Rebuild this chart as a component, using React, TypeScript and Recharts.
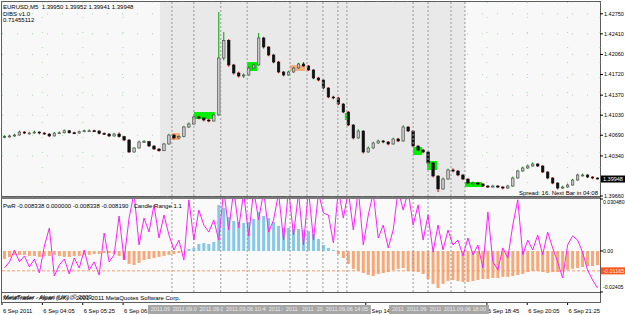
import React from "react";
import {
  ComposedChart,
  Bar,
  Line,
  XAxis,
  YAxis,
  CartesianGrid,
  ReferenceArea,
  ReferenceLine,
  Cell,
} from "recharts";

// EURUSD M5 candles (one entry per bar), open = previous close
const firstOpen = 1.4066;
const closes = [
  1.40666, 1.40678, 1.40694, 1.40745, 1.40728, 1.40728, 1.40745, 1.40728, 1.40711, 1.40678,
  1.40728, 1.40733, 1.40767, 1.40733, 1.40728, 1.4075, 1.40767, 1.40767, 1.40762, 1.40723,
  1.40711, 1.40678, 1.40711, 1.40666, 1.4061, 1.40406, 1.40474, 1.40576, 1.40581, 1.40508,
  1.40457, 1.40428, 1.40542, 1.40694, 1.40644, 1.40666, 1.4083, 1.40881, 1.41, 1.40983,
  1.40949, 1.40932, 1.41034, 1.42, 1.423, 1.41882, 1.41746, 1.41695, 1.41712, 1.41831,
  1.41882, 1.4234, 1.42187, 1.42051, 1.41932, 1.41763, 1.41712, 1.41763, 1.41831, 1.41899,
  1.41865, 1.41797, 1.41661, 1.41627, 1.41492, 1.41339, 1.41322, 1.4122, 1.41084, 1.40864,
  1.40644, 1.40762, 1.40406, 1.40474, 1.40559, 1.40593, 1.40576, 1.40542, 1.40627, 1.40593,
  1.4083, 1.40762, 1.40508, 1.4044, 1.40406, 1.4022, 1.39999, 1.39779, 1.39948, 1.40101,
  1.40084, 1.40016, 1.39948, 1.3988, 1.3988, 1.39863, 1.39829, 1.39812, 1.39829, 1.39812,
  1.39795, 1.39829, 1.39965, 1.40084, 1.40135, 1.40169, 1.40203, 1.40169, 1.40067, 1.39965,
  1.3988, 1.39795, 1.39812, 1.39846, 1.39931, 1.40016, 1.40016, 1.39982, 1.39965, 1.39948,
];
const highs = [
  1.4069, 1.407, 1.40715, 1.4077, 1.4076, 1.4075, 1.4077, 1.40755, 1.4074, 1.40725,
  1.40745, 1.40755, 1.4079, 1.4078, 1.4075, 1.4077, 1.40785, 1.4079, 1.40785, 1.40775,
  1.4074, 1.40725, 1.4073, 1.4074, 1.4068, 1.40625, 1.4049, 1.406, 1.4061, 1.40595,
  1.4052, 1.4047, 1.4056, 1.40715, 1.4071, 1.4069, 1.4085, 1.4091, 1.4103, 1.4102,
  1.41, 1.4097, 1.4106, 1.4278, 1.4244, 1.4232, 1.419, 1.4177, 1.4174, 1.4186,
  1.4191, 1.42424, 1.4236, 1.422, 1.4207, 1.4195, 1.4178, 1.41785, 1.4185, 1.4192,
  1.4193, 1.4188, 1.4181, 1.4168, 1.4164, 1.41505, 1.4136, 1.4134, 1.41235, 1.411,
  1.4088, 1.4079, 1.40775, 1.405, 1.4058, 1.40615, 1.4061, 1.4059, 1.4065, 1.40645,
  1.4086, 1.40845, 1.40775, 1.4052, 1.4046, 1.4042, 1.40235, 1.4001, 1.39975, 1.40125,
  1.4013, 1.401, 1.4003, 1.3996, 1.39905, 1.399, 1.3988, 1.39845, 1.3985, 1.39845,
  1.3983, 1.3985, 1.3999, 1.40105, 1.4016, 1.40195, 1.4023, 1.40215, 1.4018, 1.4008,
  1.3998, 1.39895, 1.39835, 1.3987, 1.3995, 1.4004, 1.4004, 1.4003, 1.39995, 1.39975,
];
const lows = [
  1.4064, 1.4065, 1.40665, 1.40685, 1.4071, 1.40705, 1.40715, 1.40705, 1.40695, 1.4066,
  1.4067, 1.40715, 1.4072, 1.4072, 1.4071, 1.40715, 1.4074, 1.4075, 1.40745, 1.40705,
  1.40695, 1.4066, 1.40665, 1.4065, 1.4059, 1.4039, 1.40395, 1.40465, 1.4056, 1.4049,
  1.4044, 1.4041, 1.4042, 1.4053, 1.4062, 1.4063, 1.40655, 1.40815, 1.4087, 1.4096,
  1.40925, 1.4091, 1.4092, 1.4102, 1.4196, 1.4185, 1.4172, 1.4167, 1.4166, 1.417,
  1.41815, 1.4187, 1.4216, 1.4203, 1.4191, 1.4174, 1.4169, 1.417, 1.4175, 1.4182,
  1.4185, 1.4178, 1.4164, 1.41605, 1.4147, 1.4132, 1.413, 1.412, 1.41065, 1.40845,
  1.4062, 1.4063, 1.4038, 1.40395, 1.4046, 1.40545, 1.40555, 1.4052, 1.4053, 1.40575,
  1.4058, 1.40745, 1.4049, 1.4042, 1.40385, 1.402, 1.39975, 1.39728, 1.39765, 1.39935,
  1.4006, 1.39995, 1.3993, 1.3986, 1.3986, 1.39845, 1.3981, 1.39795, 1.398, 1.39795,
  1.3977, 1.3978, 1.39815, 1.39955, 1.4007, 1.4012, 1.40155, 1.4015, 1.4005, 1.39945,
  1.3986, 1.3977, 1.3978, 1.398, 1.39835, 1.3992, 1.39995, 1.39965, 1.39945, 1.39941,
];

// PwR histogram and Candle Range line (lower window)
const pwr = [
  -0.0047, -0.0035, -0.0023, -0.0023, -0.0023, -0.0029, -0.0029, -0.0035, -0.0029, -0.0029,
  -0.0023, -0.0029, -0.0035, -0.0035, -0.0029, -0.0029, -0.0023, -0.0023, -0.0018, -0.0018,
  -0.0012, -0.0012, -0.0018, -0.0029, -0.0053, -0.0076, -0.0082, -0.007, -0.0053, -0.0047,
  -0.0041, -0.0035, -0.0029, -0.0023, -0.0018, -0.0012, -0.0003, 0.0012, 0.0018, 0.0041,
  0.0047, 0.0041, 0.0053, 0.027, 0.0252, 0.0199, 0.0176, 0.017, 0.0164, 0.017,
  0.0188, 0.0229, 0.0205, 0.0193, 0.017, 0.0147, 0.0135, 0.0135, 0.0129, 0.0129,
  0.0123, 0.0117, 0.01, 0.007, 0.0035, 0.0018, 0.0006, -0.0018, -0.0041, -0.0076,
  -0.0105, -0.0117, -0.0129, -0.0141, -0.0147, -0.0135, -0.0129, -0.0123, -0.0111, -0.0105,
  -0.01, -0.0117, -0.0117, -0.0123, -0.0135, -0.0164, -0.0193, -0.0217, -0.0193, -0.0176,
  -0.017, -0.0176, -0.0182, -0.0182, -0.0176, -0.017, -0.0164, -0.0164, -0.0158, -0.0158,
  -0.0152, -0.0152, -0.0147, -0.0141, -0.0135, -0.0123, -0.0117, -0.0117, -0.0123, -0.0129,
  -0.0123, -0.0123, -0.0117, -0.0111, -0.0105, -0.01, -0.0094, -0.0088, -0.0088, -0.0083,
];
const candleRange = [
  -0.01, -0.0064, 0.0006, -0.0064, -0.0029, -0.0094, -0.0047, -0.0129, 0.0029, 0.0135,
  -0.0147, -0.0082, -0.0047, -0.0135, -0.0041, -0.01, 0.0006, -0.0111, -0.0064, -0.0141,
  0.0105, -0.0064, -0.0023, 0.0205, -0.0053, 0.0193, 0.034, 0.0035, 0.0193, 0.0111,
  0.027, 0.0076, 0.0211, 0.0094, 0.0006, 0.0064, -0.0053, 0.03, 0.0064, 0.024,
  0.0152, 0.0111, 0.0182, 0.0064, 0.036, 0.0123, 0.036, 0.0135, 0.034, 0.0088,
  0.036, 0.0182, 0.035, 0.0111, 0.0182, 0.034, 0.0064, 0.036, 0.0094, 0.034,
  0.0035, 0.036, 0.0064, 0.034, 0.0223, 0.0211, 0.0047, 0.036, 0.0193, 0.035,
  0.0123, 0.036, 0.0035, 0.0211, 0.034, 0.0076, 0.0152, 0.0018, 0.0123, 0.036,
  0.024, 0.035, 0.0152, 0.027, 0.0064, 0.0211, -0.0006, 0.0152, 0.0006, 0.0123,
  0.0035, 0.0064, -0.0029, 0.0076, -0.0023, 0.0035, -0.01, 0.0229, -0.0064, -0.0111,
  0.0018, -0.0041, 0.0152, 0.03, -0.0023, 0.0064, 0.0006, 0.0094, -0.0023, 0.0111,
  0.0018, -0.0064, -0.0158, 0.0035, 0.0088, 0.0064, -0.0006, -0.0111, -0.017, -0.0217,
];

const priceTicks = [1.4275, 1.4241, 1.4206, 1.4172, 1.4137, 1.4103, 1.4069, 1.4034, 1.3966];
const lastPrice = 1.39948;
const pwrTicks = [0.03048, 0, -0.02405];
const pwrTickLabels = ["0.030480", "0.00", "-0.02405"];
const pwrLevel = -0.01165;

// time labels that are not hidden under the line boxes
const timeTicks = [-0.5, 7.6, 15.7, 23.8, 72.5, 96.8, 104.9, 113];
const timeLabels = [
  "6 Sep 2011", "6 Sep 04:05", "6 Sep 05:25", "6 Sep 06:45",
  "6 Sep 14:45", "6 Sep 18:45", "6 Sep 20:05", "6 Sep 21:25",
];

// vertical line objects
const vlineBars = [33.6, 38, 43.4, 48.7, 57.3, 60.7, 63.9, 66.9, 68.7, 82, 85, 89.6, 92.4];
const vlineTimes = [
  "2011.09.06 08:20", "2011.09.06 09:05", "2011.09.06 10:00", "2011.09.06 10:45",
  "2011.09.06 12:15", "2011.09.06 12:50", "2011.09.06 13:20", "2011.09.06 13:50",
  "2011.09.06 14:05", "2011.09.06 16:20", "2011.09.06 16:50", "2011.09.06 17:35",
  "2011.09.06 18:00",
];

// session shading and DIBS boxes
const sessionFrom = 31.2;
const sessionTo = 92.4;
const zoneStart = [33.6, 38, 48.7, 57.3, 68.3, 82, 84.8, 92.4];
const zoneEnd = [35.2, 42.2, 50.7, 60.3, 69.3, 83.8, 86.8, 95.8];
const zoneHigh = [1.40728, 1.41084, 1.41932, 1.41882, 1.41068, 1.40491, 1.40253, 1.39897];
const zoneLow = [1.4061, 1.40966, 1.4178, 1.4178, 1.40949, 1.40355, 1.40101, 1.39812];
const zoneKind = ["sell", "buy", "buy", "sell", "buy", "buy", "buy", "buy"];

const bars = closes.map((c, i) => ({
  i,
  open: i === 0 ? firstOpen : closes[i - 1],
  close: c,
  high: highs[i],
  low: lows[i],
  pwr: pwr[i],
  range: candleRange[i],
}));

const FONT = '"Liberation Sans", Arial, sans-serif';
const XDOMAIN: [number, number] = [-0.5, 119.5];

function Candle(props: any) {
  const { x, y, width, height, payload } = props;
  if (x == null || y == null || !payload) return null;
  const top = Math.min(y, y + height);
  const h = Math.abs(height);
  const { open, close, high, low } = payload;
  const span = high - low || 1e-9;
  const px = (p: number) => top + ((high - p) / span) * h;
  const cx = x + width / 2;
  const up = close >= open;
  const b1 = px(Math.max(open, close));
  const b2 = px(Math.min(open, close));
  return (
    <g>
      <line x1={cx} x2={cx} y1={top} y2={top + h} stroke={up ? "#00a000" : "#e00000"} strokeWidth={1} />
      <rect
        x={cx - 1.25}
        y={b1}
        width={2.5}
        height={Math.max(1, b2 - b1)}
        fill={up ? "#c8c8c8" : "#101010"}
        stroke={up ? "#404040" : "#101010"}
        strokeWidth={0.6}
      />
    </g>
  );
}

const PriceTick = (p: any) => (
  <text x={p.x} y={p.y} dy="0.35em" fontSize={5.5} fill="#000" fontFamily={FONT}>
    {Number(p.payload.value).toFixed(5)}
  </text>
);

const PwrTick = (p: any) => {
  const shift = p.index === 0 ? 3.5 : p.index === 2 ? -5 : 0;
  return (
    <text x={p.x} y={p.y + shift} dy="0.35em" fontSize={5.2} fill="#000" fontFamily={FONT}>
      {pwrTickLabels[p.index]}
    </text>
  );
};

const TimeTick = (p: any) => (
  <text x={p.x + 1} y={p.y + 3.5} dy="0.35em" fontSize={5.8} fill="#000" fontFamily={FONT}>
    {timeLabels[p.index]}
  </text>
);

const TimeBox = (p: any) => (
  <g>
    <rect x={p.x - 24} y={p.y} width={48} height={9} fill="#a6a6a6" />
    <text x={p.x} y={p.y + 4.5} dy="0.35em" textAnchor="middle" fontSize={5.5} fill="#ececec" fontFamily={FONT}>
      {vlineTimes[p.index]}
    </text>
  </g>
);

const ScaleTick = (p: any) => (
  <g fontSize={5.4} fill="#000" fontFamily={FONT}>
    <text x={p.x} y={p.y} dy="0.35em">0.00664</text>
    <text x={p.x + 1} y={p.y + 1.5} dy="0.35em">0.00000</text>
  </g>
);

const PriceTag = (p: any) => {
  const { viewBox } = p;
  const x = viewBox.x + viewBox.width;
  return (
    <g>
      <rect x={x + 1} y={viewBox.y - 3.5} width={26} height={7} fill="#000" />
      <text x={x + 3} y={viewBox.y} dy="0.35em" fontSize={5.5} fill="#fff" fontFamily={FONT}>
        {lastPrice.toFixed(5)}
      </text>
    </g>
  );
};

const LevelTag = (p: any) => {
  const { viewBox } = p;
  const x = viewBox.x + viewBox.width;
  return (
    <g>
      <rect x={x + 1} y={viewBox.y - 3.5} width={26} height={7} fill="#ff5418" />
      <text x={x + 3} y={viewBox.y} dy="0.35em" fontSize={5.5} fill="#fff2e8" fontFamily={FONT}>
        {pwrLevel.toFixed(5)}
      </text>
    </g>
  );
};

const vlines = (key: string) =>
  vlineBars.map((b, k) => (
    <ReferenceLine key={key + k} x={b} stroke="#9a9a9a" strokeDasharray="2 2" />
  ));

const txt: React.CSSProperties = {
  position: "absolute",
  fontFamily: FONT,
  fontSize: 6,
  lineHeight: "6px",
  color: "#000",
  whiteSpace: "nowrap",
};

export default function App() {
  return (
    <div style={{ position: "absolute", left: 0, top: 0, width: 625, height: 315, background: "#fff", overflow: "hidden" }}>
      {/* pane frames */}
      <div style={{ position: "absolute", left: 1, top: 1, width: 600, height: 196, boxSizing: "border-box", border: "1px solid #5c5c5c", background: "#f8f8f8" }} />
      <div style={{ position: "absolute", left: 1, top: 197, width: 600, height: 96, boxSizing: "border-box", border: "1px solid #5c5c5c", borderTop: "2px solid #7a7a7a", background: "#fafafa" }} />
      <div style={{ position: "absolute", left: 1, top: 292, width: 600, height: 11, boxSizing: "border-box", border: "1px solid #5c5c5c", background: "#fafafa" }} />

      {/* main price window */}
      <div style={{ position: "absolute", left: 0, top: 0 }}>
        <ComposedChart width={625} height={198} data={bars} margin={{ top: 2, right: 0, bottom: 2, left: 2 }}>
          <ReferenceArea x1={sessionFrom} x2={sessionTo} fill="#e9e9e9" fillOpacity={1} stroke="none" ifOverflow="hidden" />
          <CartesianGrid stroke="#8cc88c" strokeDasharray="1 14" strokeOpacity={0.7} />
          <XAxis type="number" dataKey="i" domain={XDOMAIN} allowDataOverflow ticks={timeTicks} hide />
          <YAxis
            orientation="right"
            width={25}
            domain={[1.3966, 1.4295]}
            allowDataOverflow
            ticks={priceTicks}
            interval={0}
            tickSize={3}
            tickMargin={1}
            tickLine={{ stroke: "#000" }}
            axisLine={false}
            tick={(p: any) => <PriceTick {...p} />}
          />
          {zoneStart.map((s, k) => (
            <ReferenceArea
              key={"z" + k}
              x1={s}
              x2={zoneEnd[k]}
              y1={zoneLow[k]}
              y2={zoneHigh[k]}
              fill={zoneKind[k] === "buy" ? "#00ee00" : "#f6b080"}
              fillOpacity={1}
              stroke="none"
            />
          ))}
          {vlines("m")}
          <ReferenceLine y={lastPrice} stroke="none" label={(p: any) => <PriceTag {...p} />} />
          <Bar dataKey={(d: any) => [d.low, d.high]} shape={(p: any) => <Candle {...p} />} barSize={3} isAnimationActive={false} />
        </ComposedChart>
      </div>

      {/* PwR window */}
      <div style={{ position: "absolute", left: 0, top: 198 }}>
        <ComposedChart width={625} height={96} data={bars} margin={{ top: 1, right: 0, bottom: 2, left: 2 }}>
          <XAxis type="number" dataKey="i" domain={XDOMAIN} allowDataOverflow hide />
          <YAxis
            orientation="right"
            width={25}
            domain={[-0.02405, 0.03048]}
            allowDataOverflow
            ticks={pwrTicks}
            interval={0}
            tickSize={3}
            tickMargin={0}
            tickLine={{ stroke: "#000" }}
            axisLine={false}
            tick={(p: any) => <PwrTick {...p} />}
          />
          {vlines("p")}
          <Bar dataKey="pwr" barSize={3} isAnimationActive={false}>
            {bars.map((d) => (
              <Cell key={d.i} fill={d.pwr >= 0 ? "#87c8e8" : "#f7a878"} />
            ))}
          </Bar>
          <ReferenceLine y={pwrLevel} stroke="#f59a6a" strokeDasharray="3 2" label={(p: any) => <LevelTag {...p} />} />
          <Line dataKey="range" stroke="#ff20ff" strokeWidth={1} dot={false} type="linear" isAnimationActive={false} />
        </ComposedChart>
      </div>

      {/* bottom window and time axis */}
      <div style={{ position: "absolute", left: 0, top: 292 }}>
        <ComposedChart width={625} height={23} data={bars} margin={{ top: 1, right: 0, bottom: 0, left: 2 }}>
          <XAxis
            type="number"
            dataKey="i"
            domain={XDOMAIN}
            allowDataOverflow
            ticks={timeTicks}
            interval={0}
            height={12}
            tickSize={2}
            tickLine={{ stroke: "#000" }}
            axisLine={false}
            tick={(p: any) => <TimeTick {...p} />}
          />
          <YAxis
            orientation="right"
            width={25}
            domain={[0, 1]}
            ticks={[0.6]}
            interval={0}
            tickSize={3}
            tickMargin={1}
            tickLine={{ stroke: "#000" }}
            axisLine={false}
            tick={(p: any) => <ScaleTick {...p} />}
          />
          <ReferenceLine y={0.35} stroke="#e02020" strokeWidth={1} />
          <Line dataKey="none" stroke="none" dot={false} isAnimationActive={false} />
        </ComposedChart>
      </div>

      {/* vertical line objects with their time boxes, drawn over the time axis */}
      <div style={{ position: "absolute", left: 0, top: 292 }}>
        <ComposedChart width={625} height={23} data={bars} margin={{ top: 1, right: 25, bottom: 0, left: 2 }}>
          <XAxis
            type="number"
            dataKey="i"
            domain={XDOMAIN}
            allowDataOverflow
            ticks={vlineBars}
            interval={0}
            height={12}
            tickSize={0}
            tickMargin={2}
            tickLine={false}
            axisLine={false}
            tick={(p: any) => <TimeBox {...p} />}
          />
          <YAxis domain={[0, 1]} hide />
          {vlines("t")}
          <Line dataKey="none" stroke="none" dot={false} isAnimationActive={false} />
        </ComposedChart>
      </div>

      {/* window captions */}
      <div style={{ ...txt, left: 3, top: 4 }}>EURUSD,M5&nbsp; 1.39950 1.39952 1.39941 1.39948</div>
      <div style={{ ...txt, left: 3, top: 10.5 }}>DIBS v1.0</div>
      <div style={{ ...txt, left: 3, top: 17 }}>0.71455112</div>
      <div style={{ ...txt, right: 27, top: 190 }}>Spread: 16. Next Bar in 04:08</div>
      <div style={{ ...txt, left: 3, top: 203 }}>PwR -0.008338 0.000000 -0.008338 -0.008190&nbsp;&nbsp; Candle Range 1.1</div>
      <div style={{ ...txt, left: 3, top: 295 }}>MetaTrader - Alpari (UK) © 2001-2011 MetaQuotes Software Corp.</div>
      <div style={{ ...txt, left: 4, top: 294 }}>MetaTrader - Alpari (UK), © 2009</div>
    </div>
  );
}
